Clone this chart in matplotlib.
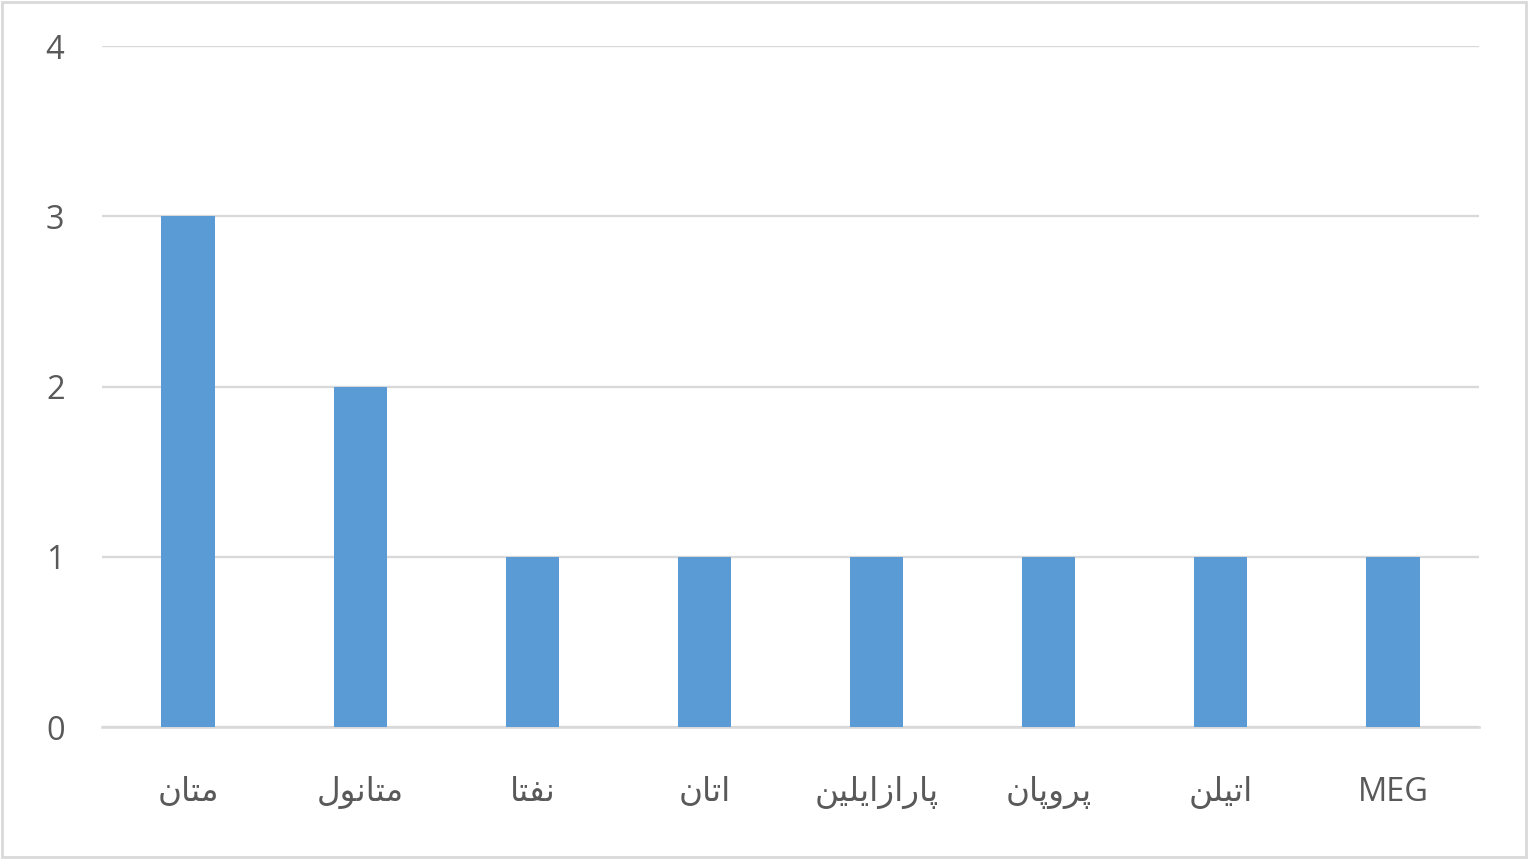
import matplotlib
matplotlib.use('Agg')
import matplotlib.pyplot as plt
from matplotlib.patches import Rectangle

# DATA
# ----
categories = ['متان', 'متانول', 'نفتا', 'اتان', 'پارازایلین', 'پروپان', 'اتیلن', 'MEG']
values = [3, 2, 1, 1, 1, 1, 1, 1]
yticks = [0, 1, 2, 3, 4]

# minimal Arabic/Persian shaping (DejaVu Sans has the presentation forms)
# isolated, final, initial, medial
FORMS = {
    'ا': ('\uFE8D', '\uFE8E', None, None),
    'ت': ('\uFE95', '\uFE96', '\uFE97', '\uFE98'),
    'ر': ('\uFEAD', '\uFEAE', None, None),
    'ز': ('\uFEAF', '\uFEB0', None, None),
    'ف': ('\uFED1', '\uFED2', '\uFED3', '\uFED4'),
    'ل': ('\uFEDD', '\uFEDE', '\uFEDF', '\uFEE0'),
    'م': ('\uFEE1', '\uFEE2', '\uFEE3', '\uFEE4'),
    'ن': ('\uFEE5', '\uFEE6', '\uFEE7', '\uFEE8'),
    'و': ('\uFEED', '\uFEEE', None, None),
    'پ': ('\uFB56', '\uFB57', '\uFB58', '\uFB59'),
    'ی': ('\uFBFC', '\uFBFD', '\uFBFE', '\uFBFF'),
}
RIGHT_ONLY = set('ارزو')


def shape(word):
    if not any(ch in FORMS for ch in word):
        return word
    out = []
    for i, ch in enumerate(word):
        if ch not in FORMS:
            out.append(ch)
            continue
        prev = word[i - 1] if i > 0 else None
        nxt = word[i + 1] if i + 1 < len(word) else None
        join_prev = prev in FORMS and prev not in RIGHT_ONLY
        join_next = nxt in FORMS and ch not in RIGHT_ONLY
        iso, fin, ini, med = FORMS[ch]
        if join_prev and join_next:
            out.append(med)
        elif join_prev:
            out.append(fin)
        elif join_next:
            out.append(ini)
        else:
            out.append(iso)
    return ''.join(reversed(out))


plt.rcParams['font.family'] = ['Open Sans', 'DejaVu Sans']

fig = plt.figure(figsize=(15.29, 8.59), dpi=100)
ax = fig.add_axes([102 / 1529, 1 - 727 / 859, (1479 - 102) / 1529, (727 - 46) / 859])

x = list(range(len(categories)))
ax.bar(x, values, width=0.31, color='#5B9BD5', zorder=3)

ax.set_xlim(-0.5, len(categories) - 0.5)
ax.set_ylim(0, 4)
ax.set_yticks(yticks)
ax.yaxis.grid(True, color='#D9D9D9', linewidth=1.7, zorder=0)
ax.set_xticks(x)
ax.set_xticklabels([shape(c) for c in categories])

for s in ['top', 'right', 'left']:
    ax.spines[s].set_visible(False)
ax.spines['bottom'].set_color('#D9D9D9')
ax.spines['bottom'].set_linewidth(1.9)

ax.tick_params(axis='both', length=0, labelsize=23.5, colors='#595959')
ax.tick_params(axis='y', pad=27)
ax.tick_params(axis='x', pad=35)

fig.patches.append(Rectangle((0.001, 0.002), 0.997, 0.996, transform=fig.transFigure,
                             fill=False, edgecolor='#D9D9D9', linewidth=2))

fig.savefig('out.png', dpi=100, facecolor='white')
